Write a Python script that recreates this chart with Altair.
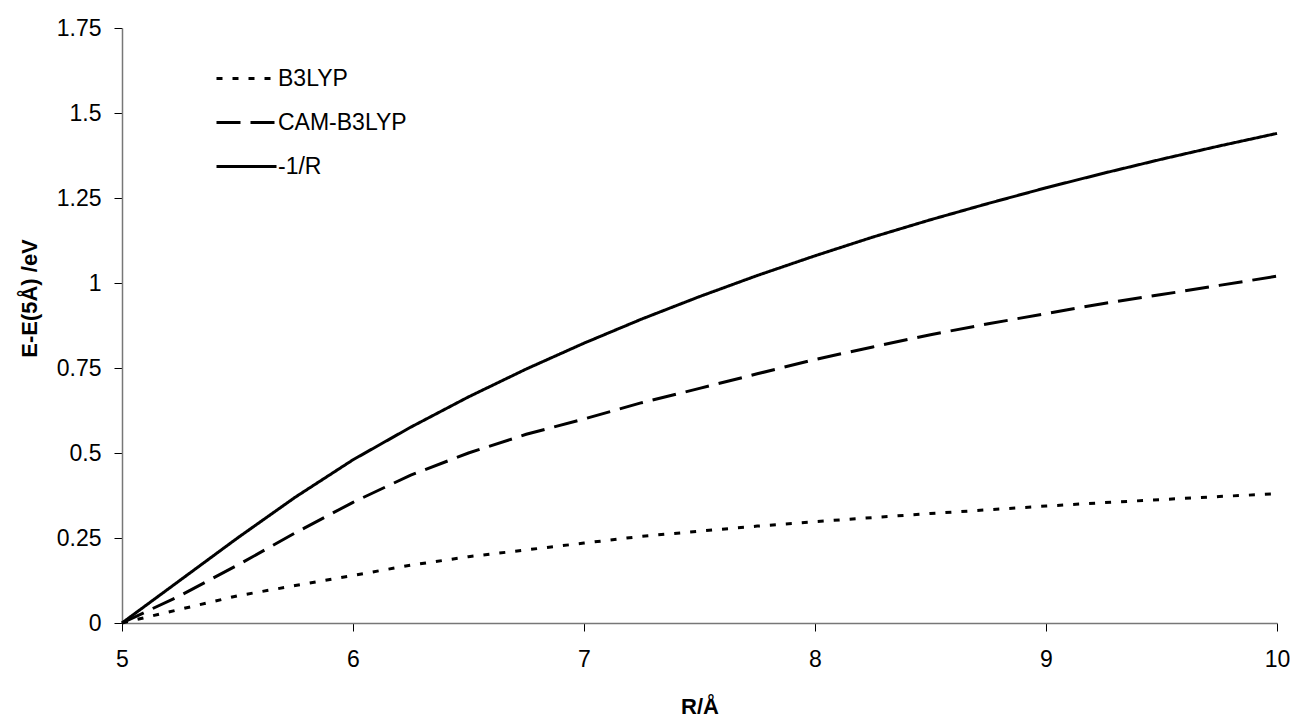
import altair as alt
import pandas as pd

R = [5.0, 5.25, 5.5, 5.75, 6.0, 6.25, 6.5, 6.75, 7.0, 7.25, 7.5,
     7.75, 8.0, 8.25, 8.5, 8.75, 9.0, 9.25, 9.5, 9.75, 10.0]

b3lyp = [0.0, 0.04, 0.08, 0.11, 0.14, 0.17, 0.195, 0.215, 0.235, 0.255, 0.27,
         0.285, 0.298, 0.31, 0.322, 0.333, 0.344, 0.354, 0.363, 0.372, 0.38]

cam_b3lyp = [0.0, 0.08, 0.17, 0.265, 0.355, 0.435, 0.50, 0.555, 0.60, 0.648, 0.69,
             0.733, 0.775, 0.812, 0.848, 0.88, 0.91, 0.94, 0.966, 0.993, 1.02]

inv_r = [0.0, 0.125, 0.25, 0.37, 0.48, 0.576, 0.665, 0.747, 0.823, 0.894, 0.96,
         1.022, 1.08, 1.135, 1.186, 1.234, 1.28, 1.323, 1.364, 1.403, 1.44]

series_names = ["B3LYP", "CAM-B3LYP", "-1/R"]
series_values = [b3lyp, cam_b3lyp, inv_r]

x_ticks = [5, 6, 7, 8, 9, 10]
y_ticks = [0, 0.25, 0.5, 0.75, 1, 1.25, 1.5, 1.75]

rows = []
for name, vals in zip(series_names, series_values):
    for i, (r, v) in enumerate(zip(R, vals)):
        rows.append({"R": r, "E": v, "series": name, "order": i})
df = pd.DataFrame(rows)

FONT = "Liberation Sans"

chart = alt.Chart(df).mark_line(color="black", strokeWidth=3, strokeCap="butt").encode(
    x=alt.X("R:Q",
            scale=alt.Scale(domain=[5, 10], nice=False, zero=False),
            axis=alt.Axis(title="R/Å", values=x_ticks, labelExpr="datum.value + ''",
                          tickSize=8, labelPadding=17, labelFlush=False,
                          titleY=90, titleBaseline="alphabetic")),
    y=alt.Y("E:Q",
            scale=alt.Scale(domain=[0, 1.75], nice=False),
            axis=alt.Axis(title="E-E(5Å) /eV", values=y_ticks, labelExpr="datum.value + ''",
                          tickSize=8, labelPadding=13, labelFlush=False,
                          titleX=-93, titleY=270, titleAngle=270,
                          titleAlign="center", titleBaseline="middle")),
    strokeDash=alt.StrokeDash("series:N",
                              scale=alt.Scale(domain=series_names,
                                              range=[[6, 10], [24, 10], [1, 0]]),
                              legend=alt.Legend(title=None, orient="none",
                                                legendX=93, legendY=19,
                                                symbolType="stroke",
                                                symbolSize=3600,
                                                symbolStrokeWidth=3,
                                                symbolStrokeColor="black",
                                                labelFontSize=23,
                                                labelFont=FONT,
                                                labelColor="black",
                                                labelOffset=0,
                                                rowPadding=-18,
                                                padding=0)),
    order="order:Q",
).properties(
    width=1155,
    height=595,
    autosize=alt.AutoSizeParams(type="none"),
    padding={"left": 114, "top": 20, "right": 13, "bottom": 94},
).configure_view(
    stroke=None
).configure_axis(
    grid=False,
    labelFont=FONT,
    labelFontSize=23,
    labelColor="black",
    titleFont=FONT,
    titleFontSize=22,
    titleFontWeight="bold",
    titleColor="black",
    tickColor="black",
    domainColor="#777777",
    domainWidth=1.5,
)

chart.save("out.html", embed_options={"renderer": "svg", "actions": False})
